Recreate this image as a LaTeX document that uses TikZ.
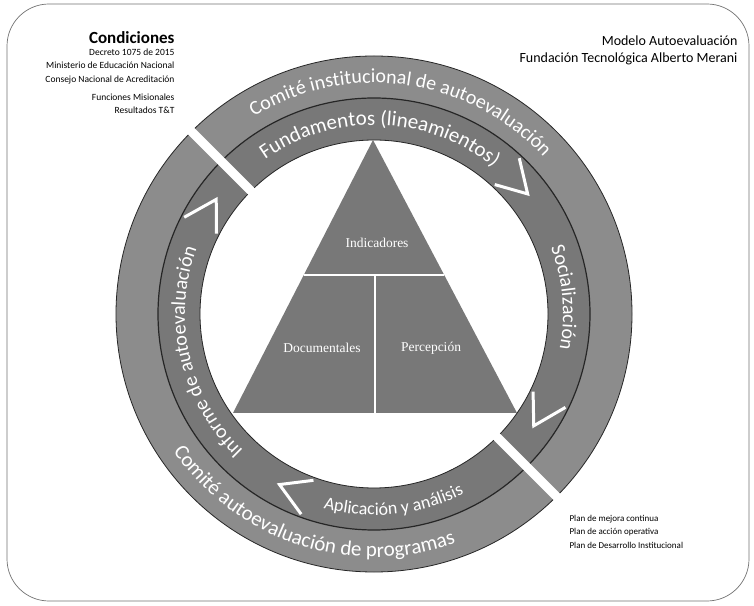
\documentclass[tikz,border=0pt]{standalone}
\usepackage{fontspec}
\setmainfont{Carlito}
\newfontfamily\trifont{Liberation Serif}
\usetikzlibrary{decorations.text}
\definecolor{outerring}{gray}{0.55}
\definecolor{innerring}{gray}{0.47}
\definecolor{trifill}{gray}{0.47}
\definecolor{edgecol}{gray}{0.15}
\tikzset{
  frame/.style={draw=black!55, line width=0.7pt, rounded corners=42pt},
  ringedge/.style={draw=edgecol, line width=0.8pt},
  chev/.style={draw=white, line width=3pt, line join=miter},
  gapline/.style={draw=white, line width=9pt},
  divline/.style={draw=white, line width=1.4pt},
  tritext/.style={text=white, font=\trifont\fontsize{13.5}{14}\selectfont},
  lefttxt/.style={anchor=base east, font=\fontsize{9.5}{10}\selectfont},
  righttxt/.style={anchor=base east, font=\fontsize{14}{15}\selectfont},
  plantxt/.style={anchor=base west, font=\fontsize{9}{10}\selectfont}
}
\newcommand\ringtxt[5]{\path[decorate,decoration={text along path,text align=center,text={|\fontsize{#1}{#1}\selectfont\color{white}|#5}}] ([shift={(C)}]#3:#2pt) arc[start angle=#3,end angle=#4,radius=#2pt];}
\begin{document}
\begin{tikzpicture}[x=1pt,y=1pt]
\useasboundingbox (0,0) rectangle (754,605);
\fill[white] (0,0) rectangle (754,605);
\draw[frame] (7,4) rectangle (749,601);
\coordinate (C) at (374,291);
% rings
\fill[outerring, even odd rule] (C) circle (258pt) (C) circle (216pt);
\fill[innerring, even odd rule] (C) circle (216pt) (C) circle (174pt);
\draw[ringedge] (C) circle (258pt);
\draw[ringedge, line width=1.2pt] (C) circle (216pt);
\draw[ringedge] (C) circle (174pt);
% chevrons (arrow heads of the cycle)
\foreach \a in {41,-32,-116,147}{
  \draw[chev] ([shift={(C)}]{\a+6}:177pt) -- ([shift={(C)}]{\a-3}:195pt) -- ([shift={(C)}]{\a+6}:213pt);
}
% gaps
\draw[gapline] ([shift={(C)}]135:165pt) -- ([shift={(C)}]135:268pt);
\draw[gapline] ([shift={(C)}]-45:165pt) -- ([shift={(C)}]-45:268pt);
% ring texts
\ringtxt{20}{231}{150}{14}{Comité institucional de autoevaluación}
\ringtxt{21}{243}{-178}{-38}{Comité autoevaluación de programas}
\ringtxt{21}{189}{170}{6}{Fundamentos (lineamientos)}
\ringtxt{20}{189}{60}{-50}{Socialización}
\ringtxt{18}{201}{-150}{-18}{Aplicación y análisis}
\ringtxt{20}{189}{250}{136}{Informe de autoevaluación}
% triangle
\coordinate (A) at (373,465);
\coordinate (B1) at (233,192);
\coordinate (B2) at (517,192);
\fill[trifill] (A) -- (B1) -- (B2) -- cycle;
\coordinate (H1) at (303.7,330);
\coordinate (H2) at (444.3,330);
\coordinate (V1) at (375,330);
\coordinate (V2) at (375,192);
\draw[divline] (H1) -- (H2);
\draw[divline] (V1) -- (V2);
\node[tritext] (ind) at (377,362) {Indicadores};
\node[tritext] (doc) at (322,257) {Documentales};
\node[tritext] (per) at (431,257) {Percepción};
% top-left text
\node[anchor=base east, font=\bfseries\fontsize{17}{18}\selectfont] (cond) at (178,561) {Condiciones};
\node[lefttxt] (l1) at (178,549) {Decreto 1075 de 2015};
\node[lefttxt] (l2) at (178,536) {Ministerio de Educación Nacional};
\node[lefttxt] (l3) at (178,522) {Consejo Nacional de Acreditación};
\node[lefttxt] (l4) at (178,504) {Funciones Misionales};
\node[lefttxt] (l5) at (178,491) {Resultados T\&T};
% top-right text
\node[righttxt] (m1) at (741,559) {Modelo Autoevaluación};
\node[righttxt] (m2) at (741,542) {Fundación Tecnológica Alberto Merani};
% bottom-right text
\node[plantxt] (p1) at (566,84) {Plan de mejora continua};
\node[plantxt] (p2) at (566,71) {Plan de acción operativa};
\node[plantxt] (p3) at (566,57) {Plan de Desarrollo Institucional};
\end{tikzpicture}
\end{document}
